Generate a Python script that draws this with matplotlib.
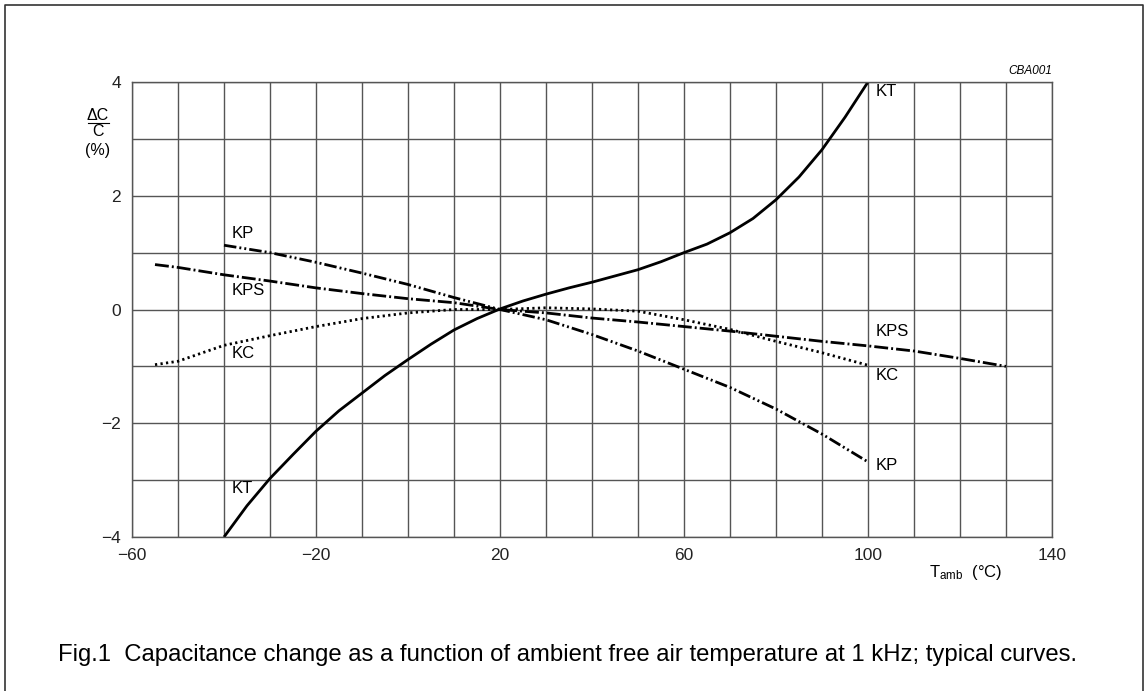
import matplotlib
matplotlib.use("Agg")
import matplotlib.pyplot as plt
from matplotlib.lines import Line2D
import numpy as np

plt.rcParams['font.family'] = ['Liberation Sans', 'DejaVu Sans']
plt.rcParams['mathtext.fontset'] = 'custom'
plt.rcParams['mathtext.rm'] = 'Liberation Sans'
plt.rcParams['mathtext.it'] = 'Liberation Sans:italic'
plt.rcParams['lines.scale_dashes'] = False

# ---- data ----
kt_x = [-40, -35, -30, -25, -20, -15, -10, -5, 0, 5, 10, 15, 20, 25, 30, 35, 40,
        45, 50, 55, 60, 65, 70, 75, 80, 85, 90, 95, 100]
kt_y = [-4.0, -3.45, -2.97, -2.55, -2.14, -1.78, -1.47, -1.16, -0.88, -0.61, -0.36,
        -0.16, 0.01, 0.15, 0.27, 0.38, 0.48, 0.59, 0.70, 0.84, 1.0, 1.15, 1.35,
        1.60, 1.93, 2.33, 2.81, 3.38, 4.0]

kp_x = [-40, -30, -20, -10, 0, 10, 20, 30, 40, 50, 60, 70, 80, 90, 100]
kp_y = [1.13, 1.0, 0.83, 0.64, 0.44, 0.21, 0.0, -0.18, -0.44, -0.73, -1.05,
        -1.37, -1.75, -2.19, -2.68]

kps_x = [-55, -50, -40, -30, -20, -10, 0, 10, 20, 30, 40, 50, 60, 70, 80, 90,
         100, 110, 120, 130]
kps_y = [0.79, 0.74, 0.61, 0.50, 0.38, 0.28, 0.19, 0.12, 0.0, -0.06, -0.15,
         -0.22, -0.30, -0.38, -0.47, -0.56, -0.64, -0.73, -0.86, -1.0]

kc_x = [-55, -50, -40, -30, -20, -10, 0, 10, 20, 30, 40, 50, 60, 70, 80, 90, 100]
kc_y = [-0.97, -0.91, -0.63, -0.46, -0.30, -0.16, -0.06, 0.0, 0.0, 0.03, 0.01,
        -0.03, -0.18, -0.35, -0.56, -0.76, -0.98]

x_ticks = [-60, -20, 20, 60, 100, 140]
x_tick_labels = ['\u221260', '\u221220', '20', '60', '100', '140']
y_ticks = [-4, -2, 0, 2, 4]
y_tick_labels = ['\u22124', '\u22122', '0', '2', '4']

left_labels = [('KP', 1.33), ('KPS', 0.33), ('KC', -0.77), ('KT', -3.14)]
right_labels = [('KT', 3.84), ('KPS', -0.39), ('KC', -1.16), ('KP', -2.75)]

caption = ("Fig.1  Capacitance change as a function of ambient free air "
           "temperature at 1 kHz; typical curves.")

# ---- figure ----
W, H = 1148, 691
fig = plt.figure(figsize=(W / 100, H / 100), dpi=100)
ax = fig.add_axes([132 / W, 1 - 537 / H, (1052 - 132) / W, (537 - 82) / H])

ax.set_xlim(-60, 140)
ax.set_ylim(-4, 4)
ax.set_xticks(np.arange(-60, 141, 10), minor=True)
ax.set_yticks(np.arange(-4, 5, 1), minor=True)
ax.set_xticks(x_ticks)
ax.set_xticklabels(x_tick_labels)
ax.set_yticks(y_ticks)
ax.set_yticklabels(y_tick_labels)
ax.tick_params(which='both', length=0, labelsize=12.5, pad=8, colors='#222222')
ax.grid(which='both', color='#555555', linewidth=1.0)
ax.set_axisbelow(True)
for s in ax.spines.values():
    s.set_color('#555555')
    s.set_linewidth(1.0)

lw = 2.0
ax.plot(kt_x, kt_y, color='black', lw=lw, solid_capstyle='butt',
        solid_joinstyle='round')
ax.plot(kp_x, kp_y, color='black', lw=lw,
        dashes=(9, 2.2, 1.4, 2.2, 1.4, 2.2))
ax.plot(kps_x, kps_y, color='black', lw=lw, dashes=(10, 2.2, 1.4, 2.2))
ax.plot(kc_x, kc_y, color='black', lw=lw, dashes=(1.6, 2.4))

for t, y in left_labels:
    ax.text(-38.3, y, t, fontsize=12, ha='left', va='center')
for t, y in right_labels:
    ax.text(101.7, y, t, fontsize=12, ha='left', va='center')

# y label as fraction
fig.text(98 / W, 1 - 115 / H, '\u0394C', fontsize=11.5, ha='center', va='center')
fig.add_artist(Line2D([88 / W, 109 / W], [1 - 123 / H, 1 - 123 / H],
                      color='black', lw=0.8))
fig.text(98 / W, 1 - 131.5 / H, 'C', fontsize=11.5, ha='center', va='center')
fig.text(98 / W, 1 - 151 / H, '(%)', fontsize=11.5, ha='center', va='center')

fig.text(966 / W, 1 - 572 / H, r'T$_{\rm amb}$  (°C)', fontsize=12,
         ha='center', va='center')
fig.text(1052 / W, 1 - 71 / H, 'CBA001', fontsize=8.5, style='italic',
         ha='right', va='center')

fig.text(567.5 / W, 1 - 655 / H, caption, fontsize=17.2, ha='center',
         va='center')

# outer frame (open at bottom)
fx = [5 / W, 5 / W, 1143 / W, 1143 / W]
fy = [0, 1 - 5 / H, 1 - 5 / H, 0]
fig.add_artist(Line2D(fx, fy, color='#333333', lw=1.2))

fig.savefig('out.png', dpi=100)
